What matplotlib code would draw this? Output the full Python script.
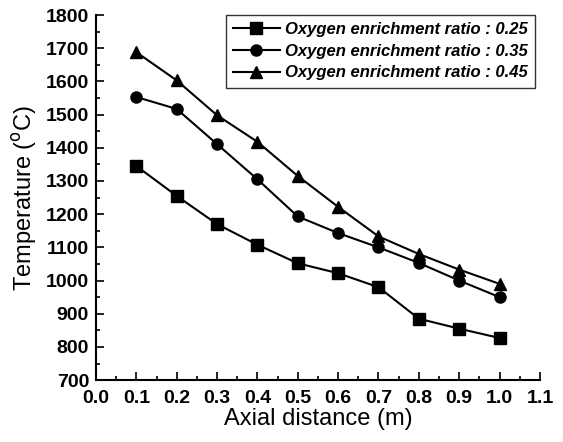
import matplotlib
matplotlib.use("Agg")
import matplotlib.pyplot as plt
from matplotlib.ticker import MultipleLocator

# data
x = [0.1, 0.2, 0.3, 0.4, 0.5, 0.6, 0.7, 0.8, 0.9, 1.0]
t_025 = [1345, 1255, 1170, 1108, 1052, 1022, 980, 885, 855, 827]
t_035 = [1553, 1517, 1411, 1305, 1193, 1143, 1100, 1053, 1000, 950]
t_045 = [1688, 1603, 1498, 1418, 1315, 1222, 1133, 1080, 1033, 990]
labels = ["Oxygen enrichment ratio : 0.25",
          "Oxygen enrichment ratio : 0.35",
          "Oxygen enrichment ratio : 0.45"]

plt.rcParams["font.family"] = ["Liberation Sans", "DejaVu Sans"]

fig = plt.figure(figsize=(5.63, 4.42), dpi=100)
ax = fig.add_axes([0.1705, 0.140, 0.7885, 0.826])

ax.plot(x, t_025, "k-s", lw=1.5, ms=8, label=labels[0])
ax.plot(x, t_035, "k-o", lw=1.5, ms=8, label=labels[1])
ax.plot(x, t_045, "k-^", lw=1.5, ms=9, label=labels[2])

ax.set_xlim(0.0, 1.1)
ax.set_ylim(700, 1800)
ax.xaxis.set_major_locator(MultipleLocator(0.1))
ax.xaxis.set_minor_locator(MultipleLocator(0.05))
ax.yaxis.set_major_locator(MultipleLocator(100))
ax.yaxis.set_minor_locator(MultipleLocator(50))
ax.xaxis.set_major_formatter(plt.FuncFormatter(lambda v, p: f"{v:.1f}"))

for s in ["top", "right"]:
    ax.spines[s].set_visible(False)
for s in ["left", "bottom"]:
    ax.spines[s].set_linewidth(1.5)

ax.tick_params(which="both", direction="in", width=1.2, top=False, right=False)
ax.tick_params(which="major", length=6, labelsize=14)
ax.tick_params(which="minor", length=3)
ax.tick_params(axis="x", which="major", pad=7)
ax.tick_params(axis="y", which="major", pad=5)
for lab in ax.get_xticklabels() + ax.get_yticklabels():
    lab.set_fontweight("bold")

ax.set_xlabel("Axial distance (m)", fontsize=17, labelpad=1)
ax.set_ylabel("Temperature ($^{\\rm o}$C)", fontsize=17, labelpad=5)

leg = ax.legend(loc="upper right", bbox_to_anchor=(1.0, 1.015), frameon=True,
                fancybox=False, edgecolor="black", handlelength=2.8,
                borderpad=0.45, labelspacing=0.4, handletextpad=0.3,
                borderaxespad=0.3,
                prop={"style": "italic", "weight": "bold", "size": 12})
leg.get_frame().set_linewidth(1.0)

fig.savefig("out.png", dpi=100)
